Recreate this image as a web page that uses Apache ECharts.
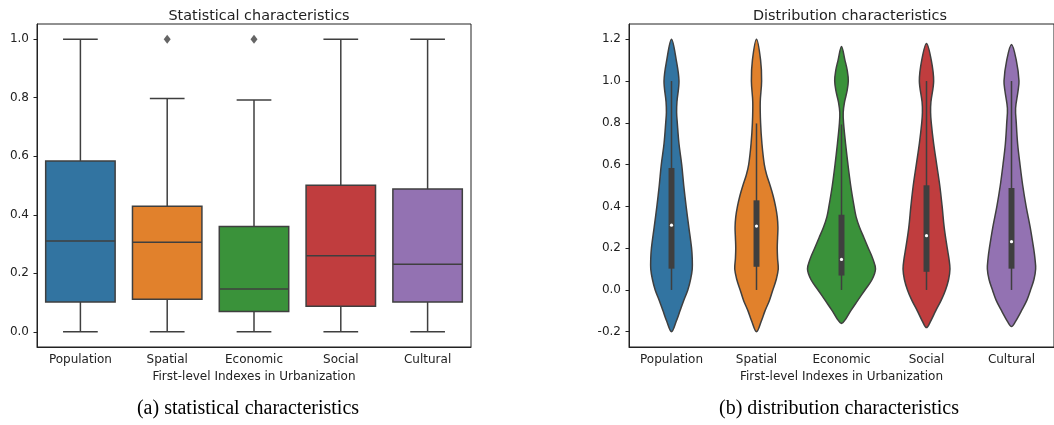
<!DOCTYPE html>
<html>
<head>
<meta charset="utf-8">
<script src="https://cdn.jsdelivr.net/npm/echarts@6/dist/echarts.min.js"></script>
<style>html,body{margin:0;padding:0;background:#fff;}#c{width:1054px;height:425px;}</style>
</head>
<body>
<div id="c"></div>
<script>
// ---------- data ----------
const categories = ['Population', 'Spatial', 'Economic', 'Social', 'Cultural'];
const whiskerLow  = [0.0, 0.0, 0.0, 0.0, 0.0];
const quartile1   = [0.102, 0.111, 0.069, 0.087, 0.102];
const medians     = [0.310, 0.306, 0.146, 0.260, 0.231];
const quartile3   = [0.584, 0.429, 0.360, 0.501, 0.488];
const whiskerHigh = [1.0, 0.797, 0.792, 1.0, 1.0];
const outlierCats   = ['Spatial', 'Economic'];
const outlierValues = [1.0, 1.0];
const leftTicks  = [0.0, 0.2, 0.4, 0.6, 0.8, 1.0];
const rightTicks = [-0.2, 0.0, 0.2, 0.4, 0.6, 0.8, 1.0, 1.2];
// violin density profiles: [value, relative density (max = 1)]
const densityPopulation = [[-0.2,0],[-0.15,0.14],[-0.1,0.25],[-0.05,0.36],[0,0.48],[0.05,0.56],[0.1,0.61],[0.15,0.61],[0.2,0.59],[0.3,0.51],[0.4,0.43],[0.5,0.36],[0.6,0.30],[0.7,0.22],[0.8,0.17],[0.85,0.15],[0.9,0.16],[1.0,0.22],[1.1,0.14],[1.2,0]];
const densitySpatial = [[-0.2,0],[-0.15,0.14],[-0.1,0.25],[-0.05,0.38],[0,0.48],[0.05,0.58],[0.1,0.64],[0.15,0.62],[0.2,0.61],[0.25,0.62],[0.3,0.63],[0.35,0.61],[0.4,0.56],[0.45,0.49],[0.5,0.40],[0.55,0.30],[0.6,0.23],[0.7,0.16],[0.8,0.12],[0.9,0.11],[1.0,0.15],[1.1,0.12],[1.2,0]];
const densityEconomic = [[-0.16,0],[-0.14,0.12],[-0.1,0.27],[-0.05,0.48],[0,0.69],[0.05,0.90],[0.1,1.0],[0.15,0.92],[0.2,0.79],[0.25,0.66],[0.3,0.53],[0.35,0.43],[0.4,0.37],[0.5,0.27],[0.6,0.19],[0.7,0.12],[0.8,0.06],[0.85,0.05],[0.9,0.09],[0.95,0.16],[1.0,0.20],[1.05,0.17],[1.1,0.10],[1.165,0]];
const densitySocial = [[-0.18,0],[-0.15,0.12],[-0.1,0.27],[-0.05,0.43],[0,0.56],[0.05,0.65],[0.1,0.69],[0.15,0.66],[0.2,0.61],[0.3,0.52],[0.4,0.46],[0.5,0.39],[0.6,0.30],[0.7,0.21],[0.8,0.14],[0.85,0.12],[0.9,0.13],[1.0,0.21],[1.1,0.14],[1.18,0]];
const densityCultural = [[-0.175,0],[-0.15,0.12],[-0.1,0.29],[-0.05,0.45],[0,0.56],[0.05,0.66],[0.1,0.71],[0.15,0.69],[0.2,0.65],[0.3,0.55],[0.4,0.43],[0.5,0.33],[0.6,0.25],[0.7,0.18],[0.8,0.14],[0.87,0.12],[0.95,0.19],[1.0,0.22],[1.1,0.14],[1.175,0]];
const violinProfiles = [densityPopulation, densitySpatial, densityEconomic, densitySocial, densityCultural];

// ---------- style ----------
const palette = ['#3274a1', '#e1812c', '#3a923a', '#c03d3e', '#9372b2'];
const edge = '#3f3f3f';
const txt = '#222';
const FONT = 'DejaVu Sans';

const chart = echarts.init(document.getElementById('c'), null, {renderer: 'canvas'});

const boxData = categories.map((c, i) => [i, whiskerLow[i], quartile1[i], medians[i], quartile3[i], whiskerHigh[i]]);
const outlierData = outlierCats.map((c, k) => [c, outlierValues[k]]);

function renderBox(params, api) {
  const i = api.value(0);
  const band = api.size([1, 0])[0];
  const hb = band * 0.4, hc = band * 0.2;
  const cx = api.coord([i, 0])[0];
  const y = k => api.coord([i, api.value(k)])[1];
  const yl = y(1), y1 = y(2), ym = y(3), y3 = y(4), yh = y(5);
  const st = {stroke: edge, lineWidth: 1.5};
  return {type: 'group', children: [
    {type: 'line', shape: {x1: cx, y1: yl, x2: cx, y2: y1}, style: st},
    {type: 'line', shape: {x1: cx, y1: y3, x2: cx, y2: yh}, style: st},
    {type: 'line', shape: {x1: cx - hc, y1: yl, x2: cx + hc, y2: yl}, style: st},
    {type: 'line', shape: {x1: cx - hc, y1: yh, x2: cx + hc, y2: yh}, style: st},
    {type: 'rect', shape: {x: cx - hb, y: y3, width: 2 * hb, height: y1 - y3}, style: {fill: palette[i], stroke: edge, lineWidth: 1.5}},
    {type: 'line', shape: {x1: cx - hb, y1: ym, x2: cx + hb, y2: ym}, style: st}
  ]};
}

function renderViolin(params, api) {
  const i = api.value(0);
  const band = api.size([1, 0])[0];
  const prof = violinProfiles[i];
  const scale = band * 0.4;
  const right = prof.map(([v, d]) => { const p = api.coord([i, v]); return [p[0] + d * scale, p[1]]; });
  const left = prof.slice(1, -1).reverse().map(([v, d]) => { const p = api.coord([i, v]); return [p[0] - d * scale, p[1]]; });
  const pts = right.concat(left);
  const cx = api.coord([i, 0])[0];
  const y = k => api.coord([i, api.value(k)])[1];
  const yl = y(1), y1 = y(2), ym = y(3), y3 = y(4), yh = y(5);
  const bw = band * 0.07;
  return {type: 'group', children: [
    {type: 'polygon', shape: {points: pts, smooth: 0.35}, style: {fill: palette[i], stroke: edge, lineWidth: 1.5}},
    {type: 'line', shape: {x1: cx, y1: yl, x2: cx, y2: yh}, style: {stroke: edge, lineWidth: 1.5}},
    {type: 'rect', shape: {x: cx - bw / 2, y: y3, width: bw, height: y1 - y3}, style: {fill: edge}},
    {type: 'circle', shape: {cx: cx, cy: ym, r: 1.6}, style: {fill: '#fff'}}
  ]};
}

function xAxisCfg(idx) {
  return {
    type: 'category', gridIndex: idx, data: categories,
    axisLine: {onZero: false, lineStyle: {color: txt, width: 1}},
    axisTick: {alignWithLabel: true, length: 3.5, lineStyle: {color: txt}},
    axisLabel: {color: txt, fontSize: 12, margin: 7, fontFamily: FONT},
    name: 'First-level Indexes in Urbanization', nameLocation: 'middle', nameGap: 24,
    nameTextStyle: {color: txt, fontSize: 12, fontFamily: FONT},
    splitLine: {show: false}
  };
}
function yAxisCfg(idx, min, max, ticks) {
  return {
    type: 'value', gridIndex: idx, min: min, max: max,
    axisLine: {show: true, onZero: false, lineStyle: {color: txt, width: 1}},
    axisTick: {show: true, length: 3.5, customValues: ticks, lineStyle: {color: txt}},
    axisLabel: {customValues: ticks, color: txt, fontSize: 12, margin: 8, fontFamily: FONT, formatter: v => v.toFixed(1)},
    splitLine: {show: false}
  };
}

const option = {
  animation: false,
  backgroundColor: '#fff',
  title: [
    {text: 'Statistical characteristics', left: 254, top: 4, textAlign: 'center', textStyle: {fontSize: 14.4, fontWeight: 'normal', color: txt, fontFamily: FONT}},
    {text: 'Distribution characteristics', left: 845, top: 4, textAlign: 'center', textStyle: {fontSize: 14.4, fontWeight: 'normal', color: txt, fontFamily: FONT}}
  ],
  grid: [
    {left: 37, right: 583, top: 24, bottom: 78, show: true, borderColor: txt, borderWidth: 1, backgroundColor: 'transparent'},
    {left: 629, right: -8, top: 24, bottom: 78, show: true, borderColor: txt, borderWidth: 1, backgroundColor: 'transparent'}
  ],
  xAxis: [xAxisCfg(0), xAxisCfg(1)],
  yAxis: [yAxisCfg(0, -0.052, 1.052, leftTicks), yAxisCfg(1, -0.273, 1.273, rightTicks)],
  graphic: [
    {type: 'text', x: 248, y: 409, style: {text: '(a) statistical characteristics', font: '20px "Liberation Serif"', fill: '#000', textAlign: 'center', textVerticalAlign: 'middle'}},
    {type: 'text', x: 839, y: 409, style: {text: '(b) distribution characteristics', font: '20px "Liberation Serif"', fill: '#000', textAlign: 'center', textVerticalAlign: 'middle'}}
  ],
  series: [
    {type: 'custom', xAxisIndex: 0, yAxisIndex: 0, data: boxData, encode: {x: 0, y: [1, 2, 3, 4, 5]}, renderItem: renderBox},
    {type: 'scatter', xAxisIndex: 0, yAxisIndex: 0, data: outlierData, symbol: 'diamond', symbolSize: [7, 9], itemStyle: {color: edge}},
    {type: 'custom', xAxisIndex: 1, yAxisIndex: 1, data: boxData, encode: {x: 0, y: [1, 2, 3, 4, 5]}, renderItem: renderViolin, clip: false}
  ]
};
chart.setOption(option);
</script>
</body>
</html>
